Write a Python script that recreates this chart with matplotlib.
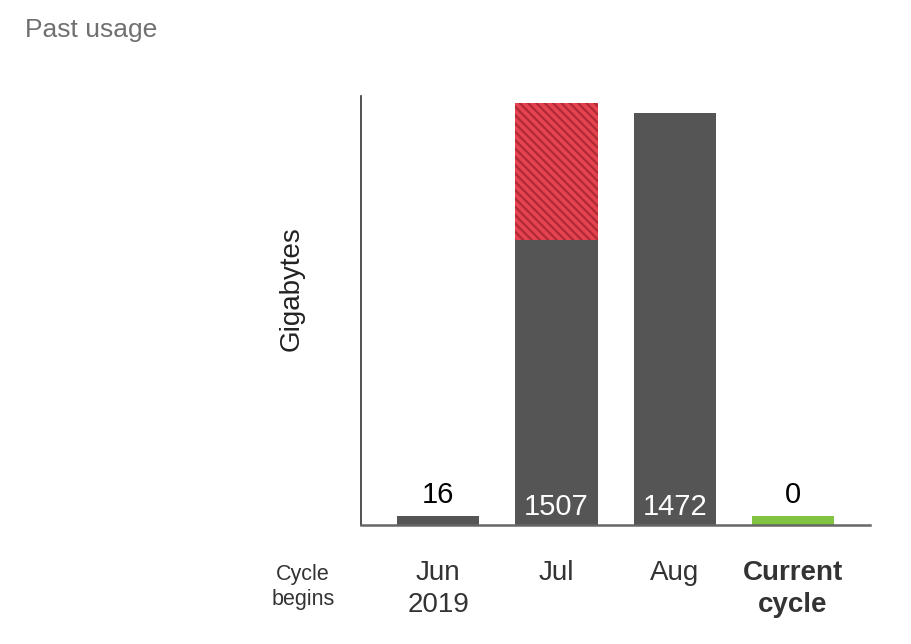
import numpy as np
import matplotlib.pyplot as plt

plt.rcParams['font.family'] = ['Liberation Sans', 'DejaVu Sans']
plt.rcParams['hatch.linewidth'] = 1.6

# data
cycles = ['Jun\n2019', 'Jul', 'Aug', 'Current\ncycle']
usage = [16, 1507, 1472, 0]
overage = [0, 489, 0, 0]   # hatched red part on top
min_shown = 32  # tiny bars still get drawn

colors = ['#555555', '#555555', '#555555', '#82c341']

fig = plt.figure(figsize=(9.12, 6.44), dpi=100)
ax = fig.add_axes([0.396, 0.185, 0.558, 0.666])

x = np.arange(len(cycles))
shown = [max(u, min_shown) for u in usage]
base = [s - o for s, o in zip(shown, overage)]

ax.bar(x, base, width=0.695, color=colors, linewidth=0)
ax.bar(x, overage, bottom=base, width=0.695, facecolor='#e4434f',
       edgecolor='#b02a35', hatch='\\\\\\\\', linewidth=0)

# value labels
for xi, u, s in zip(x, usage, shown):
    if s > 200:
        ax.annotate(str(u), (xi, 0), xytext=(0, 3), textcoords='offset points',
                    ha='center', va='bottom', color='white', fontsize=21)
    else:
        ax.annotate(str(u), (xi, s), xytext=(0, 5), textcoords='offset points',
                    ha='center', va='bottom', color='black', fontsize=21)

ax.set_xlim(-0.653, 3.653)
ax.set_ylim(0, 1532)
ax.set_yticks([])
ax.set_xticks(x)
ax.set_xticklabels(cycles, fontsize=20, color='#333333', linespacing=1.3)
ax.get_xticklabels()[-1].set_fontweight('bold')
ax.tick_params(axis='x', length=0, pad=25)

for side in ['top', 'right']:
    ax.spines[side].set_visible(False)
ax.spines['left'].set_color('#333333')
ax.spines['left'].set_linewidth(1.2)
ax.spines['bottom'].set_color('#666666')
ax.spines['bottom'].set_linewidth(1.8)

ax.set_ylabel('Gigabytes', fontsize=20, color='#222222')
ax.yaxis.set_label_coords(-0.111, 0.55)

fig.text(0.332, 0.089, 'Cycle\nbegins', ha='center', va='center',
         fontsize=15.5, color='#333333', linespacing=1.25)
fig.text(0.027, 0.953, 'Past usage', ha='left', va='center',
         fontsize=19, color='#707070')

fig.savefig('out.png', dpi=100)
